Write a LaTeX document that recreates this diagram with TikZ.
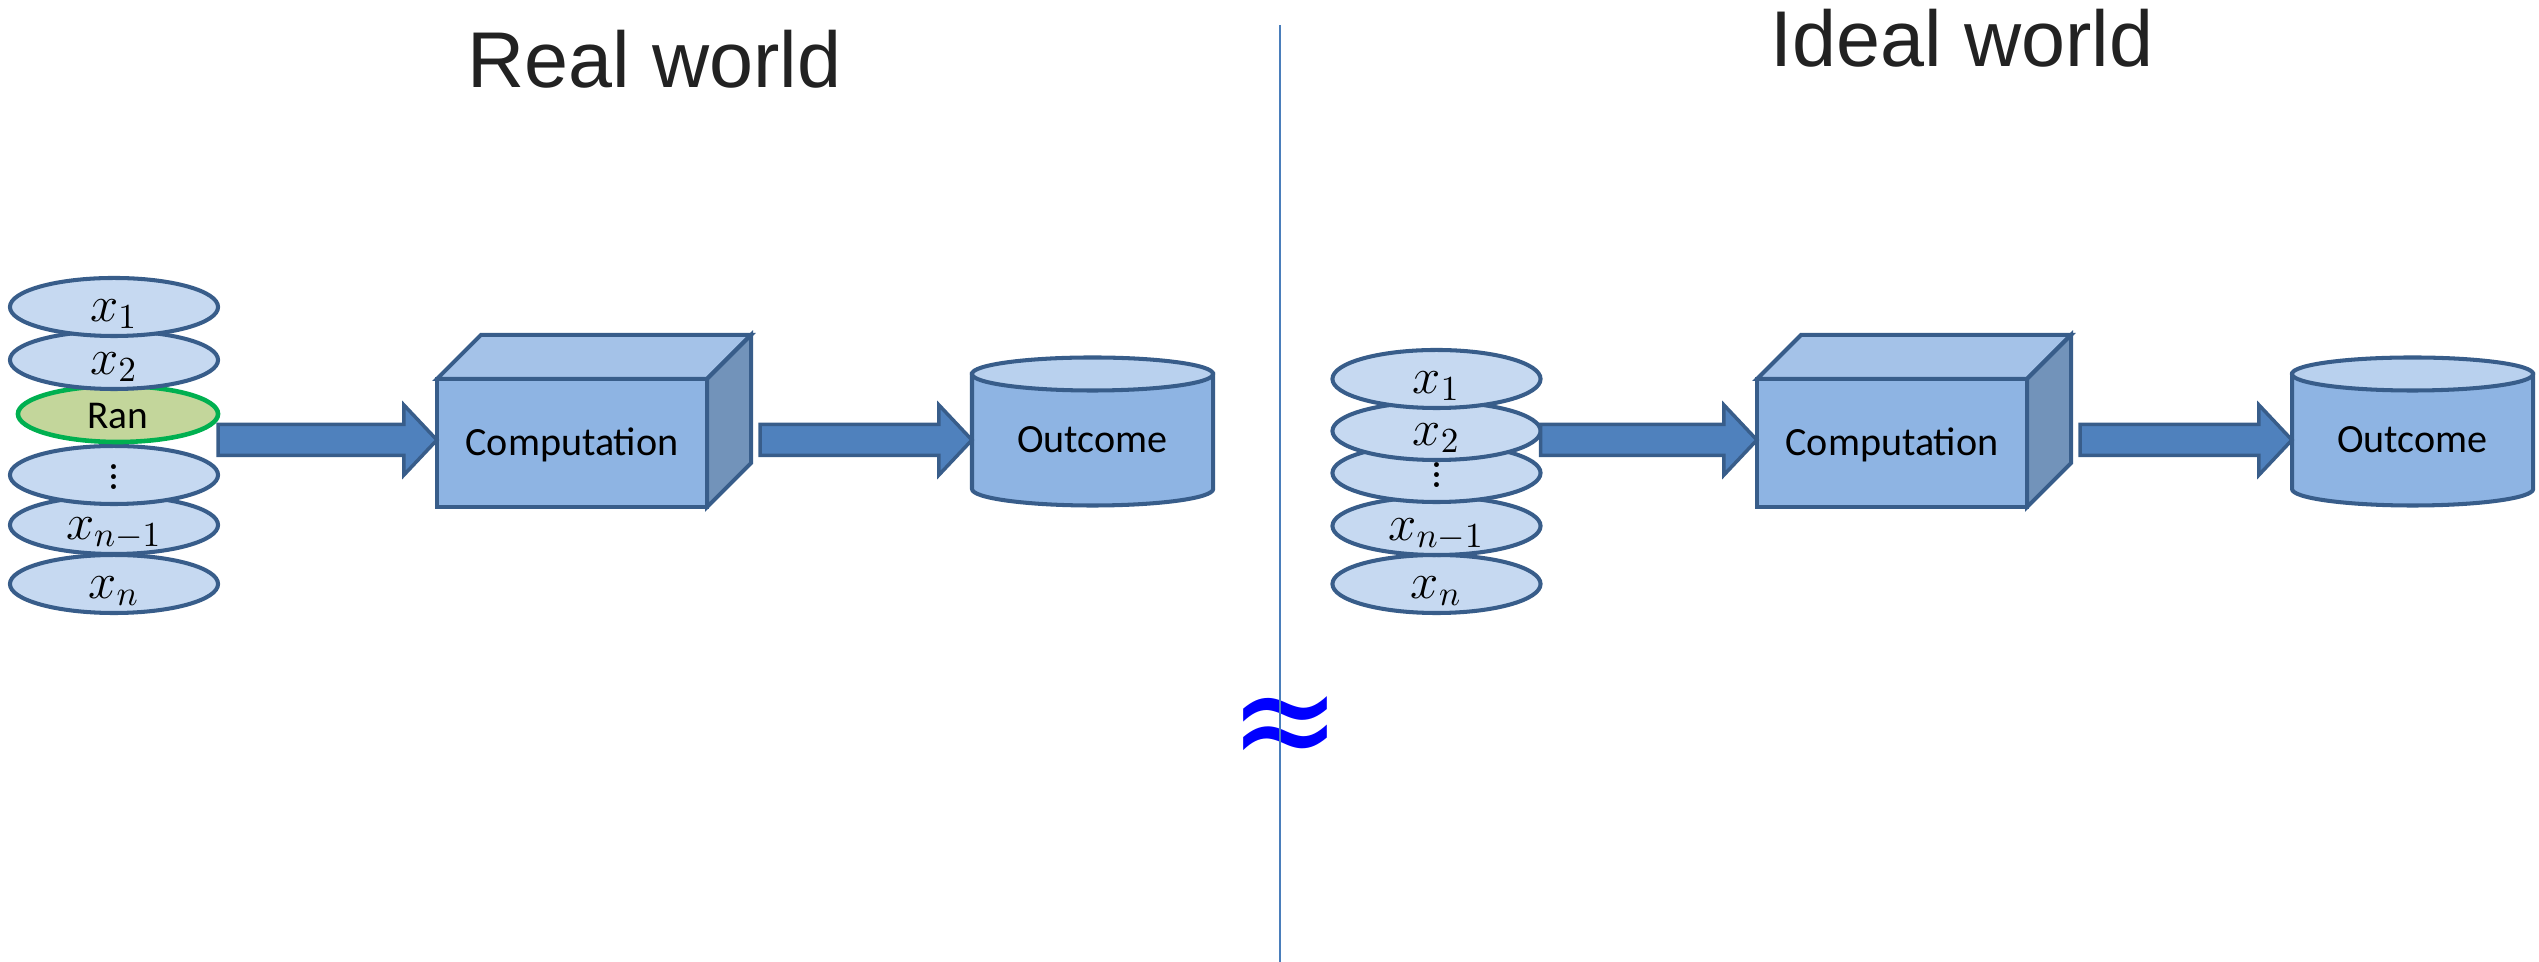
\documentclass[tikz,border=0pt]{standalone}
\usepackage{fontspec}
\usetikzlibrary{calc,shapes.geometric}

\newfontfamily\titlefont{Liberation Sans}
\newfontfamily\labelfont{Carlito}
\newfontfamily\approxfont{DejaVu Sans}

\definecolor{outl}{HTML}{385D8A}
\definecolor{diskfill}{HTML}{C6D9F1}
\definecolor{ranfill}{HTML}{C3D69B}
\definecolor{ranedge}{HTML}{00B050}
\definecolor{arrowfill}{HTML}{4F81BD}
\definecolor{cubefront}{HTML}{8EB4E3}
\definecolor{cubetop}{HTML}{A4C2E8}
\definecolor{cubeside}{HTML}{7293BA}
\definecolor{cylbody}{HTML}{8EB4E3}
\definecolor{cyltop}{HTML}{B9D1EE}
\definecolor{titlegray}{HTML}{222222}
\definecolor{divline}{HTML}{4A7EBB}
\definecolor{approxblue}{HTML}{0000FF}

% three stacked dots for the elided inputs
\newcommand{\stackdots}{\vbox{\fontsize{17}{17}\selectfont\baselineskip=2.8pt\lineskiplimit=0pt\hbox{.}\hbox{.}\hbox{.}}}

% block arrow from a start coordinate to a tip coordinate (horizontal)
\newcommand{\flowarrow}[2]{%
  \draw[flow] ($(#1)+(0,-15.5)$) -- ($(#2)+(-33,-15.5)$) -- ($(#2)+(-33,-35)$)
    -- (#2) -- ($(#2)+(-33,35)$) -- ($(#2)+(-33,15.5)$) -- ($(#1)+(0,15.5)$) -- cycle;}

% top and side faces of a box whose front face is the given node
\newcommand{\cubefaces}[1]{%
  \draw[face, fill=cubetop] (#1.north west) -- ++(44,-44) -- ($(#1.north east)+(44,-44)$) -- (#1.north east) -- cycle;
  \draw[face, fill=cubeside] (#1.north east) -- ++(44,-44) -- ($(#1.south east)+(44,-44)$) -- (#1.south east) -- cycle;}

% storage drum around a centre coordinate
\newcommand{\drum}[1]{%
  \draw[face, fill=cylbody] ($(#1)+(-120.5,-66)$) -- ($(#1)+(-120.5,49)$)
    arc[start angle=180, end angle=360, x radius=1.205cm, y radius=0.165cm]
    -- ($(#1)+(120.5,-66)$) -- cycle;
  \draw[face, fill=cyltop] ($(#1)+(0,-66)$) ellipse[x radius=1.205cm, y radius=0.165cm];}

\tikzset{
  disk/.style={ellipse, draw=outl, fill=diskfill, line width=1.15pt,
    minimum width=2.08cm, minimum height=0.58cm, inner sep=0pt, outer sep=0pt,
    text height=8pt, text depth=0pt, font=\fontsize{13.6}{13.6}\selectfont},
  rand/.style={disk, draw=ranedge, fill=ranfill, line width=1.3pt,
    minimum width=2.0cm, minimum height=0.56cm, font=\labelfont\fontsize{11.2}{11.2}\selectfont},
  front/.style={rectangle, draw=outl, fill=cubefront, line width=1.15pt,
    minimum width=2.70cm, minimum height=1.28cm, inner sep=0pt, outer sep=0pt,
    text height=7.2pt, text depth=0pt, font=\labelfont\fontsize{11.4}{11.4}\selectfont},
  drumtext/.style={rectangle, minimum width=2.41cm, inner sep=0pt, outer sep=0pt,
    text height=7.2pt, text depth=0pt, font=\labelfont\fontsize{11.4}{11.4}\selectfont},
  face/.style={draw=outl, line width=1.15pt, line join=miter},
  flow/.style={draw=outl, fill=arrowfill, line width=1pt, line join=miter},
  title/.style={font=\titlefont\fontsize{22.5}{22.5}\selectfont, text=titlegray,
    inner sep=0pt, anchor=base west},
  approx/.style={font=\approxfont\fontsize{38}{38}\selectfont, text=approxblue, inner sep=0pt},
  divider/.style={draw=divline, line width=0.6pt},
}

\begin{document}
\begin{tikzpicture}[x=0.01cm, y=-0.01cm]
\useasboundingbox (0,0) rectangle (2539,962);

% headings
\node[title] (realt) at (467,88) {Real world};
\node[title] (idealt) at (1770,67) {Ideal world};

% separator and indistinguishability sign
\node[approx] (approx) at (1285,734) {\scalebox{1}[1.12]{≈}};
\coordinate (divtop) at (1280,25);
\coordinate (divbot) at (1280,962);
\draw[divider] (divtop) -- (divbot);

% common height of the flow arrows
\coordinate (ar) at (0,440);

% ---------- real world ----------
% inputs, drawn bottom to top so each disk overlaps the one below
\node[disk] (xn) at (114,584) {$x_n$};
\node[disk] (xm) at (114,525) {$x_{n-1}$};
\node[disk] (dots) at (114,475) {\stackdots};
\node[rand] (ran) at (118,414) {Ran};
\node[disk] (x2) at (114,360) {$x_2$};
\node[disk] (x1) at (114,307) {$x_1$};

\node[front] (comp) at (572,443) {Computation};
\cubefaces{comp}

\coordinate (cylc) at (1092.5,440);
\drum{cylc}
\node[drumtext] (out) at (cylc) {Outcome};

\coordinate (a1s) at (ran.east |- ar);
\coordinate (a1t) at (comp.west |- ar);
\flowarrow{a1s}{a1t}
\coordinate (a2s) at ($(comp.east |- ar)+(53,0)$);
\coordinate (a2t) at (out.west |- ar);
\flowarrow{a2s}{a2t}

% ---------- ideal world ----------
\node[disk] (ixn) at (1436.5,584) {$x_n$};
\node[disk] (ixm) at (1436.5,526) {$x_{n-1}$};
\node[disk] (idots) at (1436.5,473) {\stackdots};
\node[disk] (ix2) at (1436.5,431) {$x_2$};
\node[disk] (ix1) at (1436.5,379) {$x_1$};

\node[front] (icomp) at (1892,443) {Computation};
\cubefaces{icomp}

\coordinate (icylc) at (2412.5,440);
\drum{icylc}
\node[drumtext] (iout) at (icylc) {Outcome};

\coordinate (b1s) at (ix2.east |- ar);
\coordinate (b1t) at (icomp.west |- ar);
\flowarrow{b1s}{b1t}
\coordinate (b2s) at ($(icomp.east |- ar)+(53,0)$);
\coordinate (b2t) at (iout.west |- ar);
\flowarrow{b2s}{b2t}
\end{tikzpicture}
\end{document}
